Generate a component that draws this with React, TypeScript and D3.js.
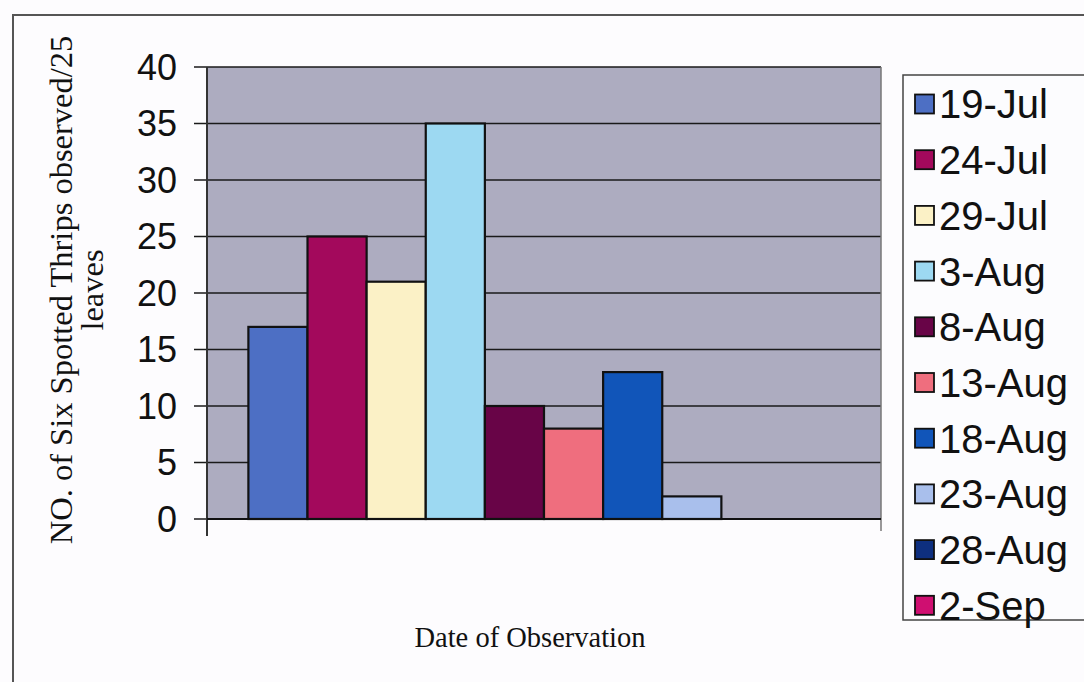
import React from "react";
import * as d3 from "d3";

const seriesNames = ["19-Jul", "24-Jul", "29-Jul", "3-Aug", "8-Aug", "13-Aug", "18-Aug", "23-Aug", "28-Aug", "2-Sep"];
const seriesValues = [17, 25, 21, 35, 10, 8, 13, 2, 0, 0];
const seriesColors = ["#4d6fc4", "#a3095c", "#fbf1c6", "#9dd9f2", "#680447", "#ef6e7e", "#1155b9", "#a9bfec", "#0e2f7f", "#cf0f71"];
const yTicks = [0, 5, 10, 15, 20, 25, 30, 35, 40];
const yTitleLines = ["NO. of Six Spotted Thrips observed/25", "leaves"];
const xTitle = "Date of Observation";

const W = 1084;
const H = 682;
const plot = { left: 207, right: 881, top: 67, bottom: 519 };

export default function App() {
  const y = d3.scaleLinear().domain([0, 40]).range([plot.bottom, plot.top]);
  const x = d3
    .scaleBand<string>()
    .domain(seriesNames)
    .range([plot.left, plot.right])
    .paddingInner(0)
    .paddingOuter(0.7);

  const legendTop = 104;
  const legendStep = 55.7;

  return (
    <svg
      width={W}
      height={H}
      viewBox={`0 0 ${W} ${H}`}
      style={{ position: "absolute", left: 0, top: 0, display: "block" }}
    >
      <rect x={0} y={0} width={W} height={H} fill="#fdfcfe" />
      {/* chart frame */}
      <rect x={13} y={15} width={W + 20} height={H + 20} fill="#fdfcfe" stroke="#555" strokeWidth={2} />

      {/* plot area */}
      <rect
        x={plot.left}
        y={plot.top}
        width={plot.right - plot.left}
        height={plot.bottom - plot.top}
        fill="#adacc0"
      />
      {yTicks.map((t) => (
        <line
          key={"g" + t}
          x1={plot.left - 13}
          x2={plot.right}
          y1={y(t)}
          y2={y(t)}
          stroke="#1a1a1a"
          strokeWidth={1.7}
        />
      ))}
      <line x1={plot.right} x2={plot.right} y1={plot.top} y2={plot.bottom + 12} stroke="#777" strokeWidth={1.5} />
      <line x1={plot.left} x2={plot.left} y1={plot.top} y2={plot.bottom + 17} stroke="#333" strokeWidth={2} />

      {/* bars */}
      {seriesNames.map((s, i) => {
        const v = seriesValues[i];
        if (v <= 0) return null;
        return (
          <rect
            key={s}
            x={x(s)}
            y={y(v)}
            width={x.bandwidth()}
            height={y(0) - y(v)}
            fill={seriesColors[i]}
            stroke="#111"
            strokeWidth={2.2}
          />
        );
      })}
      <line x1={plot.left} x2={plot.right} y1={y(0)} y2={y(0)} stroke="#111" strokeWidth={2} />

      {/* y tick labels */}
      {yTicks.map((t) => (
        <text
          key={"t" + t}
          x={177}
          y={y(t)}
          dy="0.36em"
          textAnchor="end"
          fontFamily="Liberation Sans, Arial, sans-serif"
          fontSize={36}
          fill="#111"
        >
          {t}
        </text>
      ))}

      {/* y title */}
      <g transform={`translate(61, 290) rotate(-90)`}>
        {yTitleLines.map((l, i) => (
          <text
            key={l}
            x={0}
            y={i * 31}
            dy="0.35em"
            textAnchor="middle"
            fontFamily="Liberation Serif, Times New Roman, serif"
            fontSize={32.5}
            fill="#111"
          >
            {l}
          </text>
        ))}
      </g>

      {/* x title */}
      <text
        x={530}
        y={637}
        dy="0.35em"
        textAnchor="middle"
        fontFamily="Liberation Serif, Times New Roman, serif"
        fontSize={28.5}
        fill="#111"
      >
        {xTitle}
      </text>

      {/* legend */}
      <rect x={903} y={75} width={200} height={545} fill="#fcfcfe" stroke="#444" strokeWidth={1.5} />
      {seriesNames.map((s, i) => {
        const cy = legendTop + i * legendStep;
        return (
          <g key={"l" + s}>
            <rect x={915} y={cy - 9.5} width={19} height={19} fill={seriesColors[i]} stroke="#111" strokeWidth={1.8} />
            <text
              x={939}
              y={cy}
              dy="0.36em"
              fontFamily="Liberation Sans, Arial, sans-serif"
              fontSize={40}
              fill="#111"
            >
              {s}
            </text>
          </g>
        );
      })}
    </svg>
  );
}
